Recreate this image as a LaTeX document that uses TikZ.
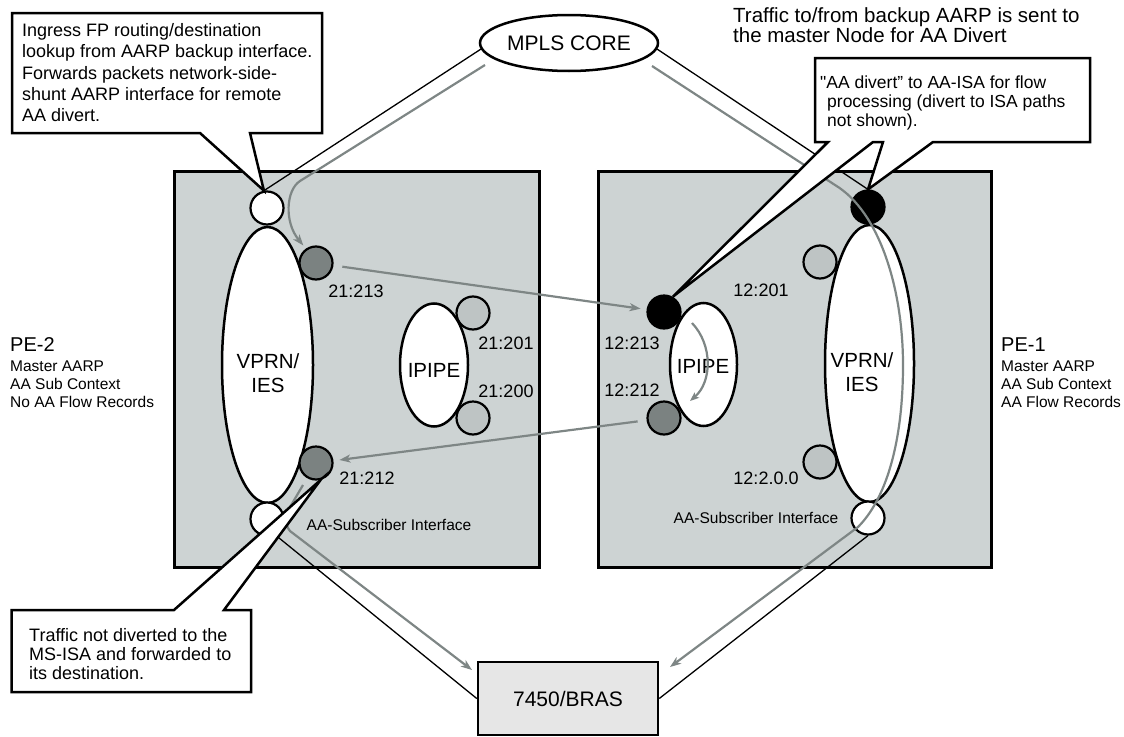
\documentclass[tikz,border=0pt]{standalone}
\usepackage{fontspec}
\setmainfont{Liberation Sans}
\usetikzlibrary{shapes.geometric,arrows.meta}

\definecolor{boxgray}{HTML}{CDD3D3}
\definecolor{portdark}{HTML}{7B8281}
\definecolor{portlight}{HTML}{BEC4C4}
\definecolor{flowgray}{HTML}{7E8685}
\definecolor{brasgray}{HTML}{E6E6E6}

\begin{document}
\begin{tikzpicture}[x=1pt,y=-1pt,
    pebox/.style={draw,line width=2.5pt,fill=boxgray,inner sep=0pt,anchor=north west},
    svc/.style={ellipse,draw,line width=2.5pt,fill=white,inner sep=0pt},
    svctxt/.style={inner sep=0pt,align=center,font=\fontsize{20.5}{24.5}\selectfont},
    port/.style={circle,draw,line width=2.2pt,minimum size=33pt,inner sep=0pt},
    lbl/.style={inner sep=0pt,font=\fontsize{18}{20}\selectfont},
    sublbl/.style={inner sep=0pt,font=\fontsize{15.5}{18}\selectfont},
    pipe/.style={line width=1.3pt},
    flow/.style={draw=flowgray,line width=2.2pt,-{Stealth[length=11pt,width=8pt,inset=3pt]}},
    callout/.style={draw,line width=2.5pt,fill=white},
    note/.style={inner sep=0pt,anchor=north west,align=left}]

\useasboundingbox (0,0) rectangle (1124,736);

%PE BOXES
\node[pebox,minimum width=365pt,minimum height=396pt] (pe2) at (173,170) {};
\node[pebox,minimum width=393pt,minimum height=396pt] (pe1) at (597,170) {};

%MPLS CORE et BRAS
\node[ellipse,draw,line width=2.5pt,fill=white,minimum width=178pt,minimum height=56pt,inner sep=0pt,
      font=\fontsize{21}{23}\selectfont] (mpls) at (569,43) {MPLS CORE};
\node[draw,line width=2.5pt,fill=brasgray,minimum width=180pt,minimum height=73pt,inner sep=0pt,
      font=\fontsize{21}{23}\selectfont] (bras) at (568,698.5) {7450/BRAS};

%PE-2
\node[svc,minimum width=91pt,minimum height=276pt] (vprn2) at (267.5,365) {};
\node[svctxt] (vprn2txt) at (268,373) {VPRN/\\IES};
\node[svc,minimum width=68pt,minimum height=123pt] (ipipe2) at (434,365) {};
\node[svctxt] (ipipe2txt) at (434,370) {IPIPE};
\node[port,fill=white] (wtl) at (267,208) {};
\node[port,fill=portdark] (d213) at (316,263) {};
\node[port,fill=portlight] (p201l) at (473,313) {};
\node[port,fill=portlight] (p200l) at (473,418) {};
\node[port,fill=portdark] (d212l) at (316,463) {};
\node[port,fill=white] (wbl) at (267,519) {};

%PE-1
\node[svc,minimum width=89pt,minimum height=277pt] (vprn1) at (869.5,363.5) {};
\node[svctxt] (vprn1txt) at (862,372) {VPRN/\\IES};
\node[svc,minimum width=67pt,minimum height=123pt] (ipipe1) at (703.5,364.5) {};
\node[svctxt] (ipipe1txt) at (703,366) {IPIPE};
\node[port,fill=black] (bkr) at (868,207) {};
\node[port,fill=portlight] (p201r) at (820,262) {};
\node[port,fill=portlight] (p200r) at (820,462) {};
\node[port,fill=black] (b213) at (664,312) {};
\node[port,fill=portdark] (d212r) at (664,418) {};
\node[port,fill=white] (wbr) at (868,518) {};

%labels
\node[lbl] (t21213) at (356,291) {21:213};
\node[lbl] (t21201) at (506,343) {21:201};
\node[lbl] (t21200) at (506,391) {21:200};
\node[lbl] (t21212) at (367,478) {21:212};
\node[lbl] (t12201) at (761,290) {12:201};
\node[lbl] (t12213) at (632,343) {12:213};
\node[lbl] (t12212) at (632,390) {12:212};
\node[lbl] (t12200) at (766,478) {12:2.0.0};
\node[sublbl] (sub2) at (389,525) {AA-Subscriber Interface};
\node[sublbl] (sub1) at (756,518) {AA-Subscriber Interface};

%liens
\draw[pipe] (mpls.184) -- (wtl.100);
\draw[pipe] (mpls.-4) -- (bkr.north);
\draw[pipe] (wbl.-63) -- (bras.west);
\draw[pipe] (wbr.south) -- (bras.east);

%flux
\coordinate (gl0) at (485,65);
\coordinate (gb0) at (303,485);
\coordinate (tipL) at (472,670);
\coordinate (gr0) at (652,66);
\coordinate (tipR) at (670,667);
\draw[flow,shorten >=4pt] (gl0) -- (300,181) .. controls (286,190) and (284,222) .. (d213.125);
\draw[flow,shorten <=9pt,shorten >=6pt] (d213) -- (b213);
\draw[flow,shorten <=9pt,shorten >=6pt] (d212r) -- (d212l);
\draw[flow] (gb0) -- (293,502) .. controls (285,514) and (284,524) .. (290,531) -- (tipL);
\draw[flow] (gr0) -- (835,185) .. controls (880,212) and (903,290) .. (903,365)
      .. controls (903,445) and (885,500) .. (858,527) -- (tipR);
\draw[flow,-{Stealth[length=9pt,width=7pt,inset=2pt]}] (692,323) .. controls (713,345) and (712,382) .. (690,401);

%CALLOUTS
\draw[callout] (12,13) -- (322,13) -- (322,133) -- (250,133) -- (wtl.100) -- (200,133) -- (12,133) -- cycle;
\draw[callout] (815,58) -- (1090,58) -- (1090,142) -- (933,142) -- (bkr.north) -- (883,142) -- (873,142)
      -- (b213.60) -- (828,142) -- (815,142) -- cycle;
\draw[callout] (11.5,610) -- (174,610) -- (d212l.-75) -- (224,610) -- (251,610) -- (251,692) -- (11.5,692) -- cycle;

\node[note,font=\fontsize{18}{21.25}\selectfont] (c1txt) at (22,23.5)
  {Ingress FP routing/destination\\lookup from AARP backup interface.\\Forwards packets network-side-\\shunt AARP interface for remote\\AA divert.};
\node[note,font=\fontsize{17.5}{19}\selectfont] (c2txt) at (820,75.5)
  {\textquotedbl AA divert'' to AA-ISA for flow\\\hspace*{7pt}processing (divert to ISA paths\\\hspace*{7pt}not shown).};
\node[note,font=\fontsize{18}{19}\selectfont] (c3txt) at (29,628.5)
  {Traffic not diverted to the\\MS-ISA and forwarded to\\its destination.};
\node[note,font=\fontsize{20.5}{19.5}\selectfont] (divnote) at (733,7.5)
  {Traffic to/from backup AARP is sent to\\the master Node for AA Divert};

%PE TEXTES
\node[anchor=west,inner sep=0pt,font=\fontsize{20}{22}\selectfont] (pe2name) at (10,345) {PE-2};
\node[note,font=\fontsize{15.5}{18.3}\selectfont] (pe2info) at (10,360.5) {Master AARP\\AA Sub Context\\No AA Flow Records};
\node[anchor=west,inner sep=0pt,font=\fontsize{20}{22}\selectfont] (pe1name) at (1001,345) {PE-1};
\node[note,font=\fontsize{15.5}{18.3}\selectfont] (pe1info) at (1001,360.5) {Master AARP\\AA Sub Context\\AA Flow Records};
\end{tikzpicture}
\end{document}
